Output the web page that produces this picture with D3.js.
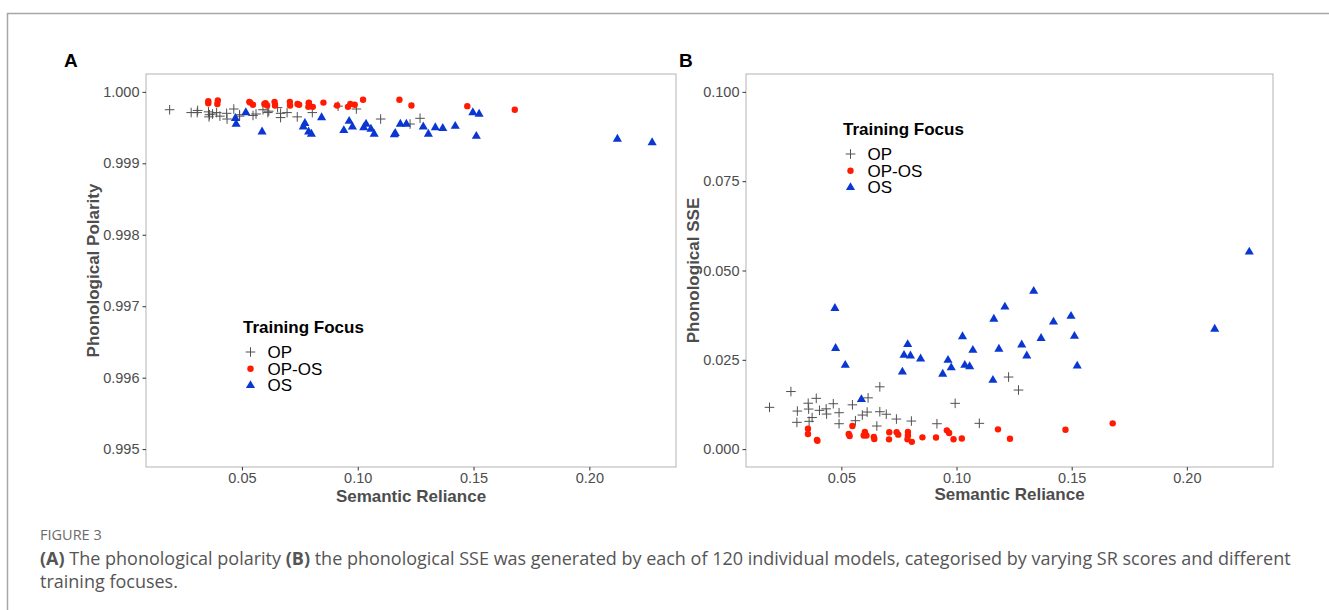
<!DOCTYPE html>
<html>
<head>
<meta charset="utf-8">
<script src="https://cdn.jsdelivr.net/npm/d3@7"></script>
<style>
  body { margin: 0; background: #fff; }
  svg { display: block; }
</style>
</head>
<body>
<div id="chart"></div>
<script>
// semantic reliance (x) and both outcome scores for each model, by training focus
let opSR       = [0.0188, 0.0281, 0.0309, 0.0307, 0.0356, 0.0358, 0.0360, 0.0373, 0.0391, 0.0405, 0.0434, 0.0436, 0.0465, 0.0490, 0.0490, 0.0548, 0.0561, 0.0591, 0.0612, 0.0616, 0.0654, 0.0667, 0.0667, 0.0695, 0.0739, 0.0804, 0.0915, 0.0994, 0.1099, 0.1226, 0.1269];
let opPolarity = [0.99975, 0.99971, 0.99974, 0.99971, 0.99972, 0.99965, 0.99968, 0.99969, 0.99971, 0.99966, 0.99970, 0.99962, 0.99976, 0.99968, 0.99966, 0.99967, 0.99969, 0.99975, 0.99971, 0.99973, 0.99978, 0.99964, 0.99970, 0.99971, 0.99965, 0.99971, 0.99980, 0.99976, 0.99962, 0.99955, 0.99963];
let opSSE      = [0.01170, 0.01612, 0.01066, 0.00750, 0.01285, 0.01122, 0.00778, 0.00884, 0.01422, 0.01086, 0.01128, 0.00982, 0.01271, 0.01019, 0.00711, 0.01240, 0.00795, 0.00954, 0.01038, 0.01436, 0.00647, 0.01744, 0.01047, 0.00977, 0.00842, 0.00786, 0.00711, 0.01282, 0.00722, 0.02018, 0.01654];

let oposSR       = [0.0355, 0.0355, 0.0396, 0.0394, 0.0548, 0.0532, 0.0536, 0.0602, 0.0597, 0.0609, 0.0641, 0.0643, 0.0708, 0.0707, 0.0740, 0.0747, 0.0789, 0.0789, 0.0787, 0.0806, 0.0852, 0.0911, 0.0958, 0.0968, 0.0987, 0.1023, 0.1180, 0.1232, 0.1473, 0.1678];
let oposPolarity = [0.99987, 0.99984, 0.99988, 0.99983, 0.99982, 0.99986, 0.99985, 0.99984, 0.99983, 0.99981, 0.99986, 0.99981, 0.99981, 0.99986, 0.99983, 0.99982, 0.99985, 0.99984, 0.99979, 0.99979, 0.99985, 0.99981, 0.99979, 0.99983, 0.99982, 0.99989, 0.99989, 0.99981, 0.99980, 0.99975];
let oposSSE      = [0.00571, 0.00425, 0.00235, 0.00260, 0.00647, 0.00423, 0.00367, 0.00478, 0.00381, 0.00381, 0.00339, 0.00283, 0.00473, 0.00274, 0.00473, 0.00406, 0.00479, 0.00381, 0.00277, 0.00204, 0.00330, 0.00325, 0.00526, 0.00451, 0.00277, 0.00297, 0.00554, 0.00291, 0.00543, 0.00722];

let osSR       = [0.0472, 0.0475, 0.0517, 0.0587, 0.0765, 0.0772, 0.0788, 0.0800, 0.0844, 0.0940, 0.0963, 0.0977, 0.1026, 0.1036, 0.1057, 0.1071, 0.1158, 0.1162, 0.1184, 0.1210, 0.1283, 0.1305, 0.1335, 0.1367, 0.1421, 0.1497, 0.1512, 0.1524, 0.2121, 0.2271];
let osPolarity = [0.99963, 0.99955, 0.99971, 0.99944, 0.99951, 0.99956, 0.99944, 0.99941, 0.99964, 0.99946, 0.99959, 0.99951, 0.99950, 0.99955, 0.99948, 0.99941, 0.99940, 0.99942, 0.99955, 0.99955, 0.99951, 0.99941, 0.99950, 0.99949, 0.99952, 0.99971, 0.99938, 0.99969, 0.99934, 0.99929];
let osSSE      = [0.0394, 0.0282, 0.0235, 0.0139, 0.0216, 0.0263, 0.0293, 0.0261, 0.0253, 0.0210, 0.0249, 0.0228, 0.0315, 0.0235, 0.0231, 0.0277, 0.0193, 0.0364, 0.0280, 0.0398, 0.0292, 0.0261, 0.0442, 0.0310, 0.0356, 0.0372, 0.0316, 0.0233, 0.0336, 0.0552];

let focusNames = ["OP", "OP-OS", "OS"];
let xTicks = [0.05, 0.10, 0.15, 0.20];
let polarityTicks = [0.995, 0.996, 0.997, 0.998, 0.999, 1.000];
let sseTicks = [0.000, 0.025, 0.050, 0.075, 0.100];

let w = 1329;
let h = 610;
let fontMain = "'Liberation Sans', Arial, sans-serif";
let colors = { "OP": "#505050", "OP-OS": "#ff1a00", "OS": "#0a37d2" };

let svg = d3.select("#chart").append("svg")
    .attr("width", w)
    .attr("height", h)
    .style("background-color", "white");

// outer figure frame (top + left rule)
svg.append("path")
    .attr("d", "M7.5," + h + "V13.5H" + w)
    .attr("fill", "none")
    .attr("stroke", "#a6a6a6")
    .attr("stroke-width", 1.5);

// build the rows of each group
function rows(sr, yA, yB, focus) {
  return sr.map(function(d, i) { return { sr: d, a: yA[i], b: yB[i], focus: focus }; });
}
let allRows = rows(opSR, opPolarity, opSSE, "OP")
  .concat(rows(oposSR, oposPolarity, oposSSE, "OP-OS"))
  .concat(rows(osSR, osPolarity, osSSE, "OS"));

let triangle = d3.symbol().type(d3.symbolTriangle).size(36);

function drawMark(sel) {
  sel.each(function(d) {
    let g = d3.select(this);
    if (d.focus == "OP") {
      g.append("path")
        .attr("d", "M-4.8,0H4.8M0,-4.8V4.8")
        .attr("stroke", colors.OP)
        .attr("stroke-width", 1)
        .attr("fill", "none");
    } else if (d.focus == "OP-OS") {
      g.append("circle").attr("r", 3.2).attr("fill", colors["OP-OS"]);
    } else {
      g.append("path").attr("d", triangle).attr("fill", colors.OS);
    }
  });
}

function panel(opts) {
  let x = d3.scaleLinear().domain([0.0086, 0.2374]).range([opts.left, opts.right]);
  let y = d3.scaleLinear().domain(opts.yDomain).range([467, 74]);

  let g = svg.append("g");

  // panel border
  g.append("rect")
    .attr("x", opts.left)
    .attr("y", 74)
    .attr("width", opts.right - opts.left)
    .attr("height", 467 - 74)
    .attr("fill", "none")
    .attr("stroke", "#b3b3b3")
    .attr("stroke-width", 1);

  // axes
  let ax = g.append("g")
    .attr("transform", "translate(0,467)")
    .call(d3.axisBottom(x).tickValues(xTicks).tickFormat(d3.format(".2f")).tickSize(3.5).tickPadding(2.5));
  let ay = g.append("g")
    .attr("transform", "translate(" + opts.left + ",0)")
    .call(d3.axisLeft(y).tickValues(opts.ticks).tickFormat(d3.format(".3f")).tickSize(3.5).tickPadding(3));
  [ax, ay].forEach(function(a) {
    a.select(".domain").remove();
    a.selectAll("line").attr("stroke", "#333");
    a.selectAll("text")
      .style("font-family", fontMain)
      .style("font-size", "14.5px")
      .attr("fill", "#4d4d4d");
  });

  // axis titles
  g.append("text")
    .attr("x", (opts.left + opts.right) / 2)
    .attr("y", opts.xTitleY)
    .attr("text-anchor", "middle")
    .style("font-family", fontMain)
    .style("font-size", "17px")
    .style("font-weight", "bold")
    .attr("fill", "#4d4d4d")
    .text("Semantic Reliance");
  g.append("text")
    .attr("transform", "translate(" + opts.yTitleX + ",270.5) rotate(-90)")
    .attr("text-anchor", "middle")
    .style("font-family", fontMain)
    .style("font-size", "17px")
    .style("font-weight", "bold")
    .attr("fill", "#4d4d4d")
    .text(opts.yTitle);

  // panel letter
  g.append("text")
    .attr("x", opts.letterX)
    .attr("y", 67)
    .style("font-family", fontMain)
    .style("font-size", "19px")
    .style("font-weight", "bold")
    .attr("fill", "black")
    .text(opts.letter);

  // points
  g.selectAll(".pt")
    .data(allRows)
    .enter()
    .append("g")
      .attr("class", "pt")
      .attr("transform", function(d) { return "translate(" + x(d.sr) + "," + y(d[opts.key]) + ")"; })
      .call(drawMark);

  // legend
  let lg = g.append("g").attr("transform", "translate(" + opts.legend[0] + "," + opts.legend[1] + ")");
  lg.append("text")
    .attr("x", 0)
    .attr("y", 0)
    .style("font-family", fontMain)
    .style("font-size", "17px")
    .style("font-weight", "bold")
    .attr("fill", "black")
    .text("Training Focus");
  let items = lg.selectAll(".item")
    .data(focusNames)
    .enter()
    .append("g")
      .attr("class", "item")
      .attr("transform", function(d, i) { return "translate(0," + (19 + i * 16.7) + ")"; });
  items.append("g")
    .attr("transform", "translate(7.5,0)")
    .datum(function(d) { return { focus: d }; })
    .call(drawMark);
  items.append("text")
    .attr("x", 24.5)
    .attr("y", 6)
    .style("font-family", fontMain)
    .style("font-size", "17px")
    .attr("fill", "black")
    .text(function(d) { return d; });
}

panel({
  left: 146, right: 676,
  yDomain: [0.99475, 1.00025], ticks: polarityTicks, key: "a",
  yTitle: "Phonological Polarity", yTitleX: 99, xTitleY: 502,
  letter: "A", letterX: 64,
  legend: [243, 333]
});

panel({
  left: 746, right: 1273,
  yDomain: [-0.005, 0.105], ticks: sseTicks, key: "b",
  yTitle: "Phonological SSE", yTitleX: 699, xTitleY: 500,
  letter: "B", letterX: 679,
  legend: [843, 135]
});

// caption
let capFont = "'Open Sans', 'Noto Sans', sans-serif";
svg.append("text")
  .attr("x", 40)
  .attr("y", 540)
  .style("font-family", capFont)
  .style("font-size", "14.5px")
  .attr("fill", "#6b6b6b")
  .text("FIGURE 3");

let cap1 = svg.append("text")
  .attr("x", 40)
  .attr("y", 565)
  .style("font-family", capFont)
  .style("font-size", "18px")
  .attr("fill", "#555");
cap1.append("tspan").style("font-weight", "bold").text("(A)");
cap1.append("tspan").text(" The phonological polarity ");
cap1.append("tspan").style("font-weight", "bold").text("(B)");
cap1.append("tspan").text(" the phonological SSE was generated by each of 120 individual models, categorised by varying SR scores and different");

svg.append("text")
  .attr("x", 40)
  .attr("y", 588)
  .style("font-family", capFont)
  .style("font-size", "18px")
  .attr("fill", "#555")
  .text("training focuses.");
</script>
</body>
</html>
